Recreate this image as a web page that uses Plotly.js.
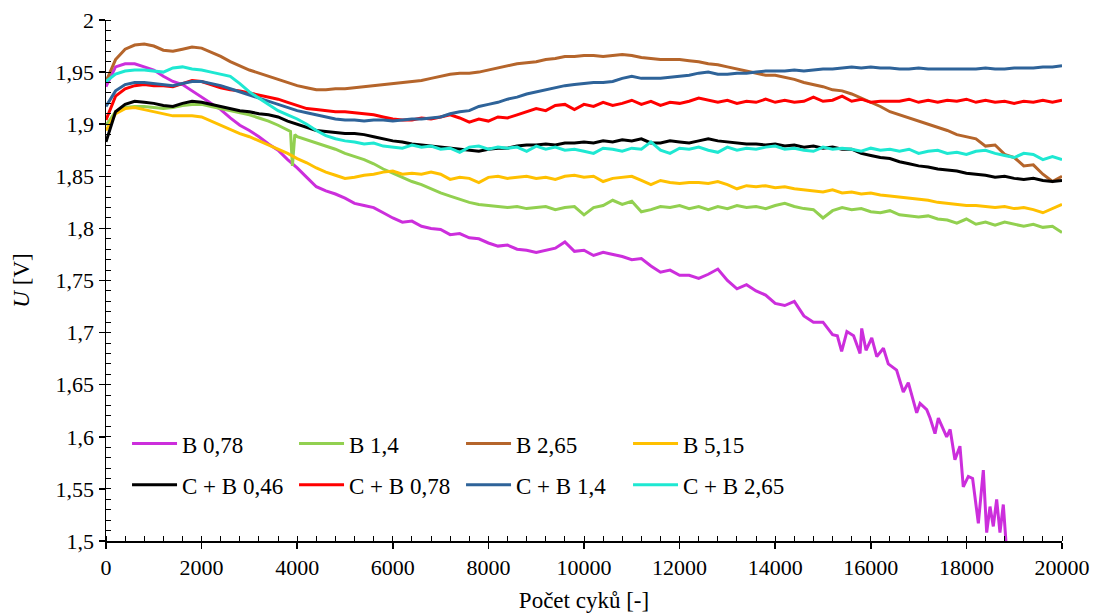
<!DOCTYPE html>
<html><head><meta charset="utf-8">
<script src="https://cdn.plot.ly/plotly-3.0.1.min.js"></script>
<style>html,body{margin:0;padding:0;background:#fff}#chart{width:1095px;height:616px}</style>
</head><body><div id="chart"></div>
<script>
// Shared cycle grid (step 200)
const cycles = [0,200,400,600,800,1000,1200,1400,1600,1800,
2000,2200,2400,2600,2800,3000,3200,3400,3600,3800,
4000,4200,4400,4600,4800,5000,5200,5400,5600,5800,
6000,6200,6400,6600,6800,7000,7200,7400,7600,7800,
8000,8200,8400,8600,8800,9000,9200,9400,9600,9800,
10000,10200,10400,10600,10800,11000,11200,11400,11600,11800,
12000,12200,12400,12600,12800,13000,13200,13400,13600,13800,
14000,14200,14400,14600,14800,15000,15200,15400,15600,15800,
16000,16200,16400,16600,16800,17000,17200,17400,17600,17800,
18000,18200,18400,18600,18800,19000,19200,19400,19600,19800,
20000];

// B 0,78 (ends early, denser tail)
const b078Cycles = [0,200,400,600,800,1000,1200,1400,1600,1800,
2000,2200,2400,2600,2800,3000,3200,3400,3600,3800,
4000,4200,4400,4600,4800,5000,5200,5400,5600,5800,
6000,6200,6400,6600,6800,7000,7200,7400,7600,7800,
8000,8200,8400,8600,8800,9000,9200,9400,9600,9800,
10000,10200,10400,10600,10800,11000,11200,11400,11600,11800,
12000,12200,12400,12600,12800,13000,13200,13400,13600,13800,
14000,14200,14400,14600,14800,15000,15200,
15300,15390,15500,15640,15775,15810,15900,16020,16125,16264,
16366,16540,16680,16785,16960,17030,17170,17240,17343,17413,
17587,17660,17760,17865,17935,18040,18130,18250,18354,18424,
18494,18563,18633,18702,18772,18842];
const uB078 = [1.936,1.955,1.958,1.958,1.955,1.952,1.946,1.941,1.938,1.932,
1.926,1.920,1.914,1.906,1.899,1.894,1.888,1.881,1.875,1.866,
1.858,1.849,1.840,1.836,1.833,1.829,1.824,1.822,1.820,1.815,
1.810,1.806,1.807,1.802,1.800,1.799,1.794,1.795,1.791,1.790,
1.786,1.783,1.784,1.780,1.779,1.777,1.779,1.781,1.787,1.778,
1.779,1.774,1.777,1.775,1.773,1.770,1.771,1.764,1.758,1.760,
1.755,1.755,1.752,1.756,1.761,1.750,1.742,1.746,1.740,1.736,
1.728,1.726,1.730,1.716,1.710,1.710,1.698,
1.697,1.682,1.701,1.697,1.680,1.704,1.683,1.695,1.677,1.685,
1.670,1.664,1.643,1.652,1.623,1.632,1.626,1.618,1.603,1.618,
1.600,1.607,1.578,1.591,1.552,1.562,1.560,1.517,1.568,1.508,
1.533,1.514,1.540,1.508,1.535,1.490];

// B 1,4 (with short dip near 3900 cycles)
const uB14 = [1.899,1.912,1.916,1.917,1.917,1.916,1.915,1.916,1.918,1.919,
1.919,1.917,1.915,1.913,1.911,1.909,1.906,1.903,1.899,1.894,
1.888,1.885,1.882,1.879,1.876,1.872,1.869,1.866,1.862,1.857,
1.853,1.849,1.845,1.842,1.838,1.834,1.831,1.828,1.825,1.823,
1.822,1.821,1.820,1.821,1.819,1.820,1.821,1.818,1.820,1.821,
1.813,1.820,1.822,1.827,1.823,1.826,1.816,1.818,1.821,1.820,
1.822,1.819,1.821,1.818,1.821,1.819,1.822,1.820,1.821,1.819,
1.822,1.824,1.821,1.819,1.818,1.810,1.817,1.820,1.818,1.819,
1.816,1.815,1.817,1.813,1.812,1.811,1.812,1.809,1.808,1.805,
1.809,1.804,1.806,1.803,1.806,1.804,1.802,1.804,1.801,1.802,
1.796];
const b14DipCycles = [3860,3900,3950];
const b14DipU = [1.893,1.860,1.890];

// B 2,65
const uB265 = [1.941,1.962,1.972,1.976,1.977,1.975,1.971,1.970,1.972,1.974,
1.973,1.969,1.965,1.960,1.956,1.952,1.949,1.946,1.943,1.940,
1.937,1.935,1.933,1.933,1.934,1.934,1.935,1.936,1.937,1.938,
1.939,1.940,1.941,1.942,1.944,1.946,1.948,1.949,1.949,1.950,
1.952,1.954,1.956,1.958,1.959,1.960,1.962,1.963,1.965,1.965,
1.966,1.966,1.965,1.966,1.967,1.966,1.964,1.963,1.962,1.962,
1.962,1.961,1.960,1.958,1.957,1.955,1.953,1.951,1.949,1.947,
1.947,1.945,1.943,1.940,1.938,1.936,1.933,1.932,1.929,1.925,
1.921,1.917,1.912,1.909,1.906,1.903,1.900,1.897,1.894,1.890,
1.888,1.886,1.879,1.880,1.871,1.868,1.860,1.861,1.852,1.845,
1.850];

// B 5,15
const uB515 = [1.894,1.910,1.915,1.916,1.914,1.912,1.910,1.908,1.908,1.908,
1.907,1.903,1.899,1.895,1.891,1.888,1.884,1.880,1.876,1.872,
1.867,1.863,1.858,1.854,1.851,1.848,1.849,1.851,1.852,1.854,
1.855,1.852,1.853,1.852,1.854,1.852,1.847,1.849,1.848,1.844,
1.849,1.850,1.848,1.849,1.850,1.848,1.849,1.847,1.850,1.851,
1.849,1.850,1.845,1.848,1.849,1.850,1.846,1.842,1.846,1.844,
1.843,1.844,1.844,1.843,1.845,1.842,1.838,1.841,1.840,1.841,
1.839,1.840,1.838,1.837,1.836,1.835,1.837,1.834,1.835,1.833,
1.834,1.832,1.831,1.830,1.829,1.828,1.827,1.825,1.824,1.823,
1.822,1.822,1.821,1.820,1.821,1.819,1.820,1.818,1.815,1.819,
1.823];

// C + B 0,46
const uCB046 = [1.883,1.912,1.919,1.922,1.921,1.920,1.918,1.917,1.920,1.922,
1.921,1.919,1.917,1.915,1.913,1.912,1.910,1.909,1.907,1.903,
1.900,1.897,1.894,1.893,1.892,1.891,1.891,1.890,1.888,1.886,
1.884,1.883,1.881,1.880,1.879,1.878,1.877,1.876,1.875,1.874,
1.876,1.877,1.877,1.879,1.880,1.880,1.881,1.880,1.882,1.882,
1.883,1.882,1.884,1.883,1.885,1.884,1.886,1.882,1.882,1.884,
1.883,1.882,1.884,1.886,1.884,1.883,1.882,1.881,1.881,1.880,
1.881,1.879,1.880,1.878,1.879,1.877,1.878,1.876,1.876,1.872,
1.870,1.868,1.867,1.864,1.862,1.860,1.859,1.857,1.856,1.855,
1.853,1.852,1.851,1.849,1.850,1.848,1.847,1.848,1.846,1.845,
1.846];

// C + B 0,78
const uCB078 = [1.904,1.927,1.934,1.937,1.938,1.937,1.937,1.936,1.939,1.942,
1.941,1.938,1.935,1.933,1.932,1.930,1.928,1.926,1.924,1.921,
1.918,1.915,1.914,1.913,1.912,1.912,1.911,1.910,1.909,1.907,
1.905,1.904,1.904,1.906,1.905,1.907,1.909,1.906,1.902,1.905,
1.903,1.907,1.906,1.909,1.912,1.915,1.913,1.918,1.919,1.914,
1.919,1.917,1.921,1.918,1.920,1.923,1.919,1.922,1.918,1.921,
1.920,1.922,1.925,1.923,1.921,1.923,1.920,1.922,1.921,1.924,
1.921,1.923,1.921,1.922,1.926,1.922,1.923,1.927,1.922,1.924,
1.921,1.922,1.922,1.922,1.924,1.921,1.923,1.921,1.923,1.922,
1.924,1.921,1.923,1.921,1.922,1.920,1.922,1.921,1.923,1.921,
1.923];

// C + B 1,4
const uCB14 = [1.917,1.932,1.938,1.940,1.940,1.939,1.938,1.937,1.939,1.941,
1.941,1.939,1.937,1.934,1.931,1.928,1.925,1.922,1.919,1.916,
1.913,1.911,1.909,1.907,1.905,1.904,1.904,1.903,1.904,1.904,
1.903,1.904,1.905,1.905,1.906,1.907,1.910,1.912,1.913,1.917,
1.919,1.921,1.924,1.926,1.929,1.931,1.933,1.935,1.937,1.938,
1.939,1.940,1.940,1.941,1.944,1.946,1.944,1.944,1.944,1.945,
1.946,1.947,1.949,1.950,1.948,1.948,1.949,1.949,1.950,1.951,
1.951,1.951,1.952,1.951,1.952,1.953,1.953,1.954,1.955,1.954,
1.955,1.954,1.954,1.953,1.953,1.954,1.953,1.953,1.953,1.953,
1.953,1.953,1.954,1.953,1.953,1.954,1.954,1.954,1.955,1.955,
1.956];

// C + B 2,65
const uCB265 = [1.941,1.948,1.951,1.952,1.952,1.951,1.950,1.954,1.955,1.953,
1.952,1.950,1.948,1.946,1.939,1.931,1.925,1.919,1.913,1.909,
1.905,1.900,1.894,1.889,1.886,1.884,1.883,1.881,1.882,1.879,
1.878,1.877,1.880,1.878,1.879,1.876,1.877,1.873,1.878,1.879,
1.876,1.878,1.877,1.878,1.874,1.879,1.876,1.878,1.875,1.876,
1.874,1.872,1.877,1.876,1.874,1.877,1.876,1.883,1.875,1.872,
1.877,1.876,1.878,1.875,1.873,1.878,1.875,1.877,1.876,1.878,
1.879,1.876,1.877,1.875,1.874,1.878,1.876,1.877,1.876,1.874,
1.877,1.875,1.876,1.874,1.876,1.872,1.874,1.875,1.872,1.873,
1.871,1.874,1.875,1.872,1.870,1.868,1.872,1.871,1.866,1.869,
1.866];

const seriesNames = ['B 0,78','B 1,4','B 2,65','B 5,15','C + B 0,46','C + B 0,78','C + B 1,4','C + B 2,65'];
const seriesColors = ['#CC2EDC','#92D050','#B5652B','#FFC000','#000000','#FF0000','#2E6399','#1EE8D2'];

const cycleTicks = [0,2000,4000,6000,8000,10000,12000,14000,16000,18000,20000];
const uTicks = [1.5,1.55,1.6,1.65,1.7,1.75,1.8,1.85,1.9,1.95,2];

// merge the B 1,4 dip points into its grid
const b14Pts = cycles.map((c,i)=>[c,uB14[i]]).concat(b14DipCycles.map((c,i)=>[c,b14DipU[i]])).sort((a,b)=>a[0]-b[0]);

const xs = [b078Cycles, b14Pts.map(p=>p[0]), cycles, cycles, cycles, cycles, cycles, cycles];
const ys = [uB078, b14Pts.map(p=>p[1]), uB265, uB515, uCB046, uCB078, uCB14, uCB265];

const traces = seriesNames.map((n,i)=>({
  type:'scatter', mode:'lines', name:n, x:xs[i], y:ys[i],
  line:{color:seriesColors[i], width:3},
  legend: i<4 ? 'legend' : 'legend2',
  hoverinfo:'skip'
}));

const serif = 'Liberation Serif';
const legCommon = {orientation:'h', xanchor:'left', yanchor:'middle', x:0.022,
  entrywidth:107, entrywidthmode:'pixels', itemwidth:45, bgcolor:'rgba(0,0,0,0)',
  font:{family:serif, size:23, color:'#000'}, traceorder:'normal', tracegroupgap:0};

const layout = {
  width:1095, height:616,
  margin:{l:106, r:33, t:20, b:75},
  paper_bgcolor:'#fff', plot_bgcolor:'#fff',
  font:{family:serif, size:22, color:'#000'},
  showlegend:true,
  xaxis:{range:[0,20000], tickmode:'array', tickvals:cycleTicks, ticktext:cycleTicks.map(String),
    showline:true, linecolor:'#000', linewidth:1.5, ticks:'outside', ticklen:6, tickwidth:1.5, tickcolor:'#000',
    minor:{tickmode:'linear', tick0:0, dtick:400, ticks:'inside', ticklen:5, tickwidth:1, tickcolor:'#000', showgrid:false},
    showgrid:false, zeroline:false, tickfont:{family:serif, size:22},
    title:{text:'Počet cyků [-]', font:{family:serif, size:23}, standoff:13}},
  yaxis:{range:[1.5,2], tickmode:'array', tickvals:uTicks, ticktext:uTicks.map(v=>String(v).replace('.',',')),
    showline:true, linecolor:'#000', linewidth:1.5, ticks:'outside', ticklen:6, tickwidth:1.5, tickcolor:'#000',
    minor:{tickmode:'linear', tick0:1.5, dtick:0.01, ticks:'inside', ticklen:5, tickwidth:1, tickcolor:'#000', showgrid:false},
    showgrid:false, zeroline:false, tickfont:{family:serif, size:22},
    title:{text:'<i>U</i> [V]', font:{family:serif, size:23}, standoff:19}},
  xaxis2:{overlaying:'x', matches:'x', anchor:'y', side:'bottom', tickmode:'array', tickvals:cycleTicks,
    ticks:'inside', ticklen:6, tickwidth:1.5, tickcolor:'#000', showticklabels:false, showgrid:false, zeroline:false, showline:false},
  yaxis2:{overlaying:'y', matches:'y', anchor:'x', side:'left', tickmode:'array', tickvals:uTicks,
    ticks:'inside', ticklen:6, tickwidth:1.5, tickcolor:'#000', showticklabels:false, showgrid:false, zeroline:false, showline:false},
  legend:Object.assign({}, legCommon, {y:0.187}),
  legend2:Object.assign({}, legCommon, {y:0.108})
};

Plotly.newPlot('chart', traces, layout, {displayModeBar:false, staticPlot:true});
</script>
</body></html>
